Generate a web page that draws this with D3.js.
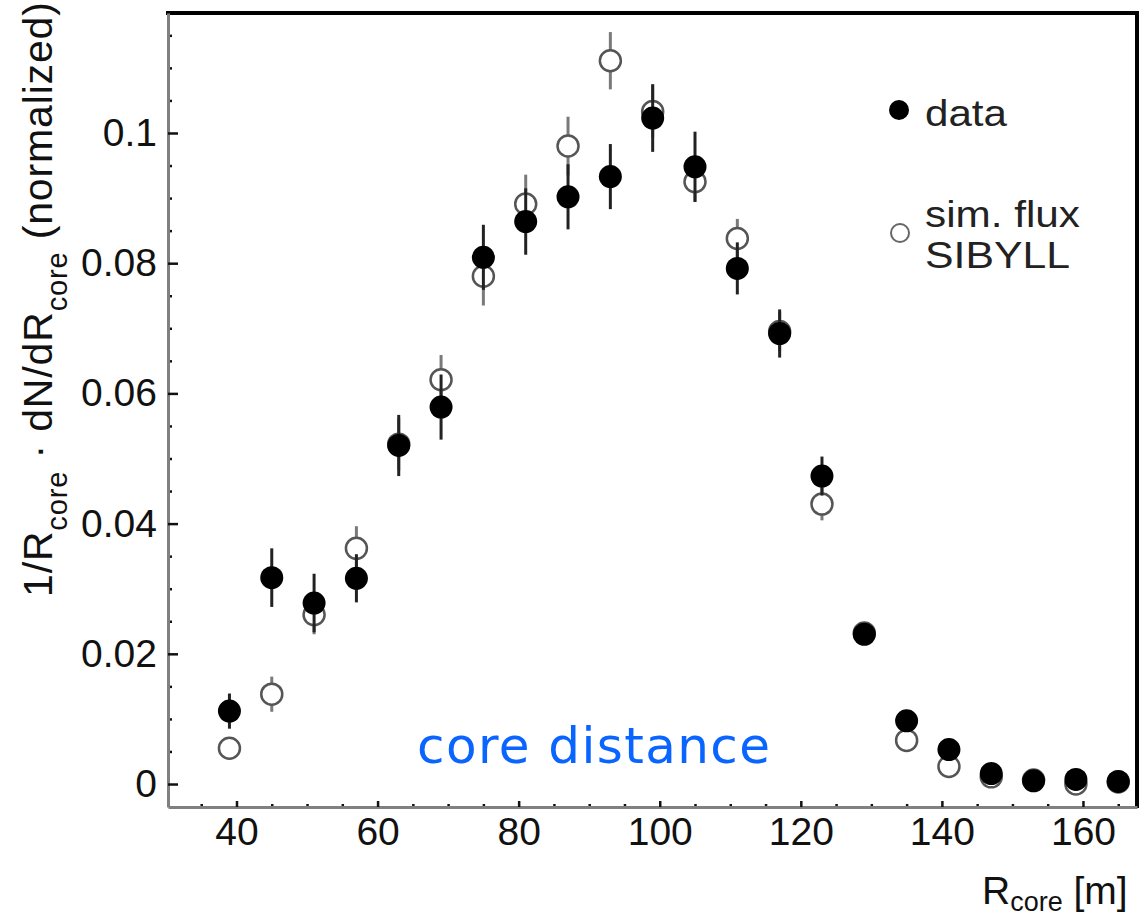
<!DOCTYPE html>
<html>
<head>
<meta charset="utf-8">
<script src="https://cdn.jsdelivr.net/npm/d3@7"></script>
<style>
  html, body { margin: 0; padding: 0; background: #fff; }
  svg { display: block; }
</style>
</head>
<body>
<svg id="chart" width="1140" height="918"></svg>
<script>
// ---- data ----
const rCore = [39, 45, 51, 57, 63, 69, 75, 81, 87, 93, 99, 105, 111, 117, 123, 129, 135, 141, 147, 153, 159, 165];
const dataVal = [0.0112, 0.0317, 0.0278, 0.0316, 0.0520, 0.0579, 0.0809, 0.0864, 0.0902, 0.0933, 0.1023, 0.0948,
                 0.0792, 0.0692, 0.0473, 0.0230, 0.0097, 0.0053, 0.0016, 0.0005, 0.0007, 0.0004];
const dataErr = [0.0027, 0.0045, 0.0045, 0.0037, 0.0047, 0.0050, 0.0050, 0.0051, 0.0050, 0.0050, 0.0052, 0.0054,
                 0.0040, 0.0037, 0.0030, 0.0010, 0.0010, 0.0010, 0.0008, 0.0008, 0.0008, 0.0008];
const simVal = [0.0055, 0.0138, 0.0260, 0.0362, 0.0522, 0.0621, 0.0780, 0.0891, 0.0980, 0.1111, 0.1033, 0.0925,
                0.0838, 0.0695, 0.0430, 0.0232, 0.0067, 0.0027, 0.0011, 0.0006, 0.0000, 0.0003];
const simErr = [0.0010, 0.0027, 0.0030, 0.0034, 0.0040, 0.0038, 0.0045, 0.0045, 0.0045, 0.0044, 0.0040, 0.0030,
                0.0030, 0.0030, 0.0025, 0.0010, 0.0010, 0.0010, 0.0008, 0.0008, 0.0008, 0.0008];
const xTicks = [40, 60, 80, 100, 120, 140, 160];
const yTicks = [0, 0.02, 0.04, 0.06, 0.08, 0.1];
const legendLabels = ["data", "sim. flux", "SIBYLL"];
const annotation = "core distance";

// ---- layout ----
const svg = d3.select("#chart");
const pLeft = 168, pRight = 1137, pTop = 13, pBottom = 807;

const x = d3.scaleLinear().domain([30.29, 167.66]).range([pLeft, pRight]);
const y = d3.scaleLinear().domain([-0.00353, 0.11843]).range([pBottom, pTop]);

const FONT = "'Liberation Sans', Arial, sans-serif";

// minor ticks
const xMinor = d3.range(35, 167, 5).filter(v => !xTicks.includes(v));
const yMinor = d3.range(0.005, 0.118, 0.005).filter(v => !yTicks.some(t => Math.abs(t - v) < 1e-9));

// frame top & right (black)
svg.append("line").attr("x1", pLeft - 2).attr("x2", pRight + 2).attr("y1", pTop).attr("y2", pTop)
  .attr("stroke", "#000").attr("stroke-width", 4);
svg.append("line").attr("x1", pRight).attr("x2", pRight).attr("y1", pTop - 2).attr("y2", pBottom + 1)
  .attr("stroke", "#000").attr("stroke-width", 4);

// y axis minor
svg.append("g").attr("transform", `translate(${pLeft},0)`)
  .call(d3.axisLeft(y).tickValues(yMinor).tickSize(-4).tickSizeOuter(0).tickFormat(""))
  .call(g => g.select(".domain").remove())
  .call(g => g.selectAll(".tick line").attr("stroke", "#111").attr("stroke-width", 2.5));
// y axis major
const gy = svg.append("g").attr("transform", `translate(${pLeft},0)`)
  .call(d3.axisLeft(y).tickValues(yTicks).tickSize(-10).tickSizeOuter(0).tickPadding(11)
        .tickFormat(d3.format("~g")));
gy.select(".domain").attr("stroke", "#808080").attr("stroke-width", 3);
gy.selectAll(".tick line").attr("stroke", "#111").attr("stroke-width", 2.5);
gy.selectAll(".tick text").attr("font-family", FONT).attr("font-size", 39).attr("fill", "#111");

// x axis minor
svg.append("g").attr("transform", `translate(0,${pBottom})`)
  .call(d3.axisBottom(x).tickValues(xMinor).tickSize(-3).tickSizeOuter(0).tickFormat(""))
  .call(g => g.select(".domain").remove())
  .call(g => g.selectAll(".tick line").attr("stroke", "#111").attr("stroke-width", 2.5));
// x axis major
const gx = svg.append("g").attr("transform", `translate(0,${pBottom})`)
  .call(d3.axisBottom(x).tickValues(xTicks).tickSize(-6).tickSizeOuter(0).tickPadding(10));
gx.select(".domain").attr("stroke", "#808080").attr("stroke-width", 3);
gx.selectAll(".tick line").attr("stroke", "#111").attr("stroke-width", 2.5);
gx.selectAll(".tick text").attr("font-family", FONT).attr("font-size", 39).attr("fill", "#111");

// ---- error bars & markers ----
const pts = rCore.map((r, i) => ({ r, d: dataVal[i], de: dataErr[i], s: simVal[i], se: simErr[i] }));

svg.append("g").selectAll("line").data(pts).join("line")
  .attr("x1", p => x(p.r)).attr("x2", p => x(p.r))
  .attr("y1", p => y(p.s + p.se)).attr("y2", p => y(p.s - p.se))
  .attr("stroke", "#7a7a7a").attr("stroke-width", 3);
svg.append("g").selectAll("circle").data(pts).join("circle")
  .attr("cx", p => x(p.r)).attr("cy", p => y(p.s)).attr("r", 10.5)
  .attr("fill", "#fff").attr("stroke", "#555").attr("stroke-width", 2.5);

svg.append("g").selectAll("line").data(pts).join("line")
  .attr("x1", p => x(p.r)).attr("x2", p => x(p.r))
  .attr("y1", p => y(p.d + p.de)).attr("y2", p => y(p.d - p.de))
  .attr("stroke", "#222").attr("stroke-width", 3);
svg.append("g").selectAll("circle").data(pts).join("circle")
  .attr("cx", p => x(p.r)).attr("cy", p => y(p.d)).attr("r", 11.5)
  .attr("fill", "#000");

// ---- legend ----
const lg = svg.append("g");
lg.append("circle").attr("cx", 899).attr("cy", 110).attr("r", 10).attr("fill", "#000");
lg.append("text").attr("x", 925).attr("y", 126).attr("textLength", 82).text(legendLabels[0]);
lg.append("circle").attr("cx", 900).attr("cy", 233).attr("r", 9)
  .attr("fill", "#fff").attr("stroke", "#666").attr("stroke-width", 2);
lg.append("text").attr("x", 925).attr("y", 227).attr("textLength", 155).text(legendLabels[1]);
lg.append("text").attr("x", 925).attr("y", 268).attr("textLength", 145).text(legendLabels[2]);
lg.selectAll("text").attr("font-family", FONT).attr("font-size", 36).attr("fill", "#222")
  .attr("lengthAdjust", "spacingAndGlyphs");

// ---- axis titles ----
const xt = svg.append("text").attr("x", 982).attr("y", 904)
  .attr("font-family", FONT).attr("font-size", 39).attr("fill", "#111");
xt.append("tspan").text("R");
xt.append("tspan").attr("font-size", 27).attr("dy", 7).text("core");
xt.append("tspan").attr("dy", -7).text(" [m]");

const yt = svg.append("text").attr("transform", "translate(52,597) rotate(-90)")
  .attr("font-family", FONT).attr("font-size", 41).attr("fill", "#111")
  .attr("letter-spacing", 0.85);
yt.append("tspan").text("1/R");
yt.append("tspan").attr("font-size", 29).attr("dy", 15).text("core");
yt.append("tspan").attr("dy", -15).text(" \u00B7 dN/dR");
yt.append("tspan").attr("font-size", 29).attr("dy", 15).text("core");
yt.append("tspan").attr("dy", -15).text(" (normalized)");

// ---- annotation ----
svg.append("text").attr("x", 417).attr("y", 763)
  .attr("font-family", "'DejaVu Sans', sans-serif").attr("font-size", 50)
  .attr("fill", "#0a64ff").attr("textLength", 353).attr("lengthAdjust", "spacing")
  .text(annotation);
</script>
</body>
</html>
